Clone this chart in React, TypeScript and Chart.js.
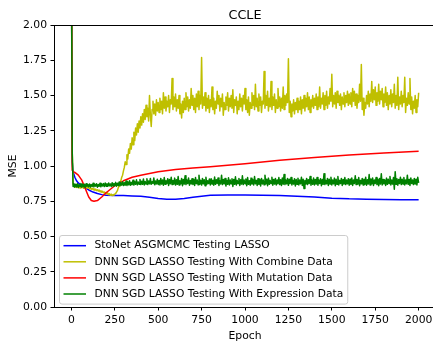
import { useEffect, useRef } from 'react';
import { Chart, registerables } from 'chart.js';

Chart.register(...registerables);

const titleText = 'CCLE';
const xTitle = 'Epoch';
const yTitle = 'MSE';
const seriesNames = [
  'StoNet ASGMCMC Testing LASSO',
  'DNN SGD LASSO Testing With Combine Data',
  'DNN SGD LASSO Testing With Mutation Data',
  'DNN SGD LASSO Testing With Expression Data',
];
const seriesColors = ['#0000ff', '#bfbf00', '#ff0000', '#008000'];
const xTicks = [0, 250, 500, 750, 1000, 1250, 1500, 1750, 2000];
const yTicks = [0, 0.25, 0.5, 0.75, 1.0, 1.25, 1.5, 1.75, 2.0];

const blueEpochs = [0, 5, 10, 20, 30, 40, 60, 80, 100, 125, 150, 175, 200, 250, 300, 350, 400, 450, 500, 550, 600, 650, 700, 750, 800, 900, 1000, 1100, 1200, 1300, 1400, 1500, 1600, 1700, 1800, 1900, 2000];
const blueMSE = [2.6, 1.03, 0.96, 0.92, 0.895, 0.88, 0.86, 0.845, 0.83, 0.815, 0.805, 0.797, 0.793, 0.79, 0.79, 0.788, 0.785, 0.778, 0.77, 0.765, 0.765, 0.77, 0.778, 0.786, 0.793, 0.795, 0.795, 0.793, 0.79, 0.785, 0.78, 0.772, 0.767, 0.765, 0.762, 0.76, 0.76];

const redEpochs = [0, 5, 10, 20, 40, 60, 80, 100, 115, 130, 150, 175, 200, 250, 300, 350, 400, 500, 600, 700, 800, 900, 1000, 1200, 1400, 1600, 1800, 2000];
const redMSE = [2.6, 0.97, 0.96, 0.955, 0.935, 0.9, 0.84, 0.78, 0.755, 0.75, 0.755, 0.78, 0.81, 0.86, 0.895, 0.92, 0.935, 0.96, 0.975, 0.985, 0.995, 1.005, 1.016, 1.04, 1.06, 1.078, 1.092, 1.104];

// yellow and green were read every 5 epochs, epoch 0 to 2000 (401 readings each)
const NOISY_STEP = 5;
const noisyEpochs = Array.from({ length: 401 }, (_, i) => i * NOISY_STEP);

const yellowMSE = [
  2.6,
  1.1, 0.87, 0.86, 0.85, 0.857, 0.848, 0.855, 0.846, 0.852, 0.844, 0.856, 0.848, 0.853, 0.842, 0.85, 0.845, 0.852, 0.843, 0.849, 0.846,
  0.838, 0.846, 0.835, 0.842, 0.832, 0.84, 0.828, 0.836, 0.826, 0.832, 0.822, 0.83, 0.818, 0.825, 0.814, 0.82, 0.81, 0.816, 0.805, 0.812,
  0.80, 0.808, 0.796, 0.803, 0.792, 0.8, 0.79, 0.797, 0.793, 0.80, 0.805, 0.815, 0.825, 0.845, 0.86, 0.88, 0.895, 0.92, 0.935, 0.965,
  0.99, 1.03, 1.01, 1.08, 1.05, 1.12, 1.09, 1.16, 1.12, 1.20, 1.15, 1.24, 1.18, 1.27, 1.22, 1.30, 1.24, 1.32, 1.27, 1.35,
  1.29, 1.37, 1.31, 1.40, 1.33, 1.43, 1.35, 1.41, 1.32, 1.50, 1.36, 1.28, 1.40, 1.46, 1.37, 1.44, 1.36, 1.47, 1.39, 1.45,
  1.38, 1.48, 1.40, 1.46, 1.37, 1.52, 1.41, 1.49, 1.39, 1.46, 1.42, 1.50, 1.38, 1.47, 1.44, 1.62, 1.40, 1.49, 1.42, 1.51,
  1.39, 1.47, 1.41, 1.50, 1.37, 1.44, 1.34, 1.46, 1.38, 1.48, 1.40, 1.52, 1.42, 1.49, 1.39, 1.47, 1.41, 1.55, 1.43, 1.50,
  1.40, 1.48, 1.38, 1.51, 1.42, 1.53, 1.40, 1.50, 1.44, 1.77, 1.41, 1.49, 1.43, 1.52, 1.39, 1.48, 1.41, 1.50, 1.38, 1.47,
  1.42, 1.56, 1.40, 1.48, 1.37, 1.46, 1.41, 1.53, 1.44, 1.50, 1.39, 1.48, 1.42, 1.51, 1.36, 1.45, 1.40, 1.49, 1.43, 1.52,
  1.39, 1.48, 1.42, 1.50, 1.41, 1.54, 1.38, 1.47, 1.43, 1.49, 1.37, 1.46, 1.40, 1.51, 1.42, 1.48, 1.39, 1.50, 1.44, 1.55,
  1.40, 1.47, 1.38, 1.49, 1.36, 1.45, 1.41, 1.52, 1.43, 1.50, 1.40, 1.58, 1.42, 1.48, 1.39, 1.51, 1.43, 1.49, 1.38, 1.46,
  1.44, 1.67, 1.41, 1.50, 1.43, 1.53, 1.39, 1.48, 1.42, 1.60, 1.40, 1.49, 1.43, 1.51, 1.38, 1.47, 1.41, 1.55, 1.42, 1.49,
  1.39, 1.48, 1.41, 1.56, 1.40, 1.50, 1.43, 1.51, 1.45, 1.76, 1.38, 1.46, 1.35, 1.44, 1.39, 1.47, 1.37, 1.45, 1.40, 1.48,
  1.38, 1.46, 1.40, 1.49, 1.37, 1.47, 1.41, 1.50, 1.39, 1.48, 1.42, 1.52, 1.40, 1.49, 1.38, 1.47, 1.42, 1.50, 1.41, 1.48,
  1.43, 1.51, 1.40, 1.49, 1.42, 1.56, 1.41, 1.48, 1.44, 1.52, 1.40, 1.50, 1.43, 1.53, 1.41, 1.49, 1.44, 1.55, 1.46, 1.65,
  1.42, 1.50, 1.44, 1.52, 1.41, 1.53, 1.45, 1.50, 1.43, 1.51, 1.40, 1.49, 1.44, 1.52, 1.42, 1.50, 1.45, 1.53, 1.43, 1.51,
  1.44, 1.52, 1.42, 1.55, 1.46, 1.53, 1.43, 1.51, 1.41, 1.50, 1.45, 1.58, 1.46, 1.72, 1.40, 1.48, 1.36, 1.45, 1.41, 1.50,
  1.44, 1.53, 1.42, 1.51, 1.46, 1.60, 1.45, 1.54, 1.47, 1.56, 1.43, 1.52, 1.46, 1.58, 1.44, 1.53, 1.47, 1.55, 1.42, 1.51,
  1.45, 1.56, 1.43, 1.52, 1.40, 1.50, 1.44, 1.54, 1.42, 1.51, 1.45, 1.58, 1.41, 1.50, 1.43, 1.63, 1.40, 1.49, 1.44, 1.53,
  1.42, 1.50, 1.45, 1.63, 1.38, 1.48, 1.43, 1.52, 1.44, 1.62, 1.40, 1.49, 1.37, 1.46, 1.41, 1.50, 1.38, 1.47, 1.42, 1.52,
];

const greenMSE = [
  2.6,
  1.1, 0.855, 0.875, 0.85, 0.87, 0.852, 0.874, 0.848, 0.868, 0.855, 0.876, 0.85, 0.872, 0.853, 0.87, 0.848, 0.874, 0.856, 0.869, 0.852,
  0.873, 0.851, 0.868, 0.855, 0.877, 0.852, 0.871, 0.857, 0.874, 0.85, 0.869, 0.856, 0.878, 0.853, 0.872, 0.858, 0.875, 0.854, 0.88, 0.857,
  0.874, 0.856, 0.879, 0.86, 0.873, 0.855, 0.882, 0.858, 0.876, 0.861, 0.884, 0.857, 0.878, 0.862, 0.886, 0.86, 0.879, 0.864, 0.888, 0.861,
  0.882, 0.864, 0.893, 0.862, 0.886, 0.867, 0.896, 0.863, 0.884, 0.868, 0.899, 0.865, 0.889, 0.87, 0.902, 0.866, 0.887, 0.871, 0.905, 0.868,
  0.892, 0.87, 0.908, 0.866, 0.89, 0.872, 0.91, 0.868, 0.894, 0.874, 0.912, 0.87, 0.889, 0.876, 0.915, 0.867, 0.893, 0.873, 0.906, 0.869,
  0.897, 0.866, 0.912, 0.872, 0.9, 0.864, 0.918, 0.87, 0.895, 0.876, 0.91, 0.862, 0.904, 0.874, 0.92, 0.868, 0.898, 0.872, 0.914, 0.865,
  0.902, 0.87, 0.925, 0.866, 0.896, 0.874, 0.912, 0.86, 0.905, 0.872, 0.93, 0.868, 0.9, 0.876, 0.915, 0.864, 0.897, 0.873, 0.91, 0.869,
  0.904, 0.862, 0.918, 0.875, 0.9, 0.867, 0.935, 0.871, 0.898, 0.865, 0.912, 0.874, 0.903, 0.86, 0.92, 0.87, 0.896, 0.876, 0.908, 0.866,
  0.91, 0.872, 0.899, 0.864, 0.922, 0.87, 0.903, 0.876, 0.915, 0.862, 0.896, 0.873, 0.935, 0.868, 0.905, 0.874, 0.912, 0.858, 0.898, 0.87,
  0.916, 0.866, 0.9, 0.874, 0.91, 0.855, 0.905, 0.87, 0.924, 0.865, 0.898, 0.876, 0.912, 0.862, 0.903, 0.872, 0.93, 0.868, 0.9, 0.875,
  0.908, 0.86, 0.918, 0.87, 0.896, 0.864, 0.914, 0.872, 0.902, 0.866, 0.925, 0.874, 0.898, 0.862, 0.91, 0.87, 0.904, 0.858, 0.912, 0.873,
  0.9, 0.867, 0.935, 0.874, 0.906, 0.86, 0.914, 0.87, 0.898, 0.876, 0.92, 0.864, 0.905, 0.872, 0.912, 0.866, 0.9, 0.874, 0.918, 0.868,
  0.903, 0.862, 0.915, 0.871, 0.94, 0.868, 0.9, 0.874, 0.912, 0.863, 0.906, 0.876, 0.918, 0.866, 0.898, 0.872, 0.91, 0.858, 0.904, 0.87,
  0.914, 0.866, 0.9, 0.874, 0.92, 0.862, 0.906, 0.84, 0.898, 0.872, 0.912, 0.868, 0.903, 0.876, 0.925, 0.864, 0.9, 0.87, 0.915, 0.866,
  0.905, 0.872, 0.918, 0.864, 0.9, 0.876, 0.91, 0.86, 0.904, 0.87, 0.945, 0.868, 0.898, 0.874, 0.912, 0.862, 0.906, 0.872, 0.92, 0.866,
  0.9, 0.874, 0.914, 0.86, 0.906, 0.87, 0.925, 0.866, 0.898, 0.876, 0.912, 0.862, 0.904, 0.872, 0.918, 0.868, 0.9, 0.874, 0.91, 0.864,
  0.906, 0.87, 0.915, 0.862, 0.9, 0.876, 0.93, 0.868, 0.904, 0.872, 0.918, 0.86, 0.898, 0.874, 0.912, 0.866, 0.906, 0.87, 0.92, 0.864,
  0.902, 0.872, 0.94, 0.866, 0.908, 0.874, 0.915, 0.862, 0.9, 0.876, 0.918, 0.868, 0.906, 0.86, 0.912, 0.872, 0.945, 0.866, 0.904, 0.874,
  0.9, 0.862, 0.914, 0.87, 0.906, 0.876, 0.925, 0.866, 0.9, 0.872, 0.918, 0.835, 0.96, 0.87, 0.91, 0.864, 0.904, 0.876, 0.92, 0.868,
  0.906, 0.872, 0.918, 0.866, 0.9, 0.874, 0.935, 0.87, 0.904, 0.862, 0.915, 0.876, 0.9, 0.868, 0.912, 0.872, 0.906, 0.866, 0.92, 0.88,
];

const FONT = '"DejaVu Sans", sans-serif';
const TICK_SIZE = 10.8;
const LEGEND_SIZE = 10.7;
const TITLE_SIZE = 12.8;

const toPoints = (xs: number[], ys: number[]) =>
  ys.map((y, i) => ({ x: xs[i], y })).filter((p) => p.x !== undefined);

const overlayPlugin = {
  id: 'overlay',
  afterDatasetsDraw(chart: any) {
    const { ctx, chartArea: a } = chart;
    ctx.save();
    // top and right spines
    ctx.strokeStyle = '#000';
    ctx.lineWidth = 1;
    ctx.beginPath();
    const top = Math.round(a.top) + 0.5;
    const right = Math.round(a.right) - 0.5;
    ctx.moveTo(a.left, top);
    ctx.lineTo(a.right, top);
    ctx.moveTo(right, a.top);
    ctx.lineTo(right, a.bottom);
    ctx.stroke();

    // title
    ctx.fillStyle = '#000';
    ctx.font = `${TITLE_SIZE}px ${FONT}`;
    ctx.textAlign = 'center';
    ctx.textBaseline = 'alphabetic';
    ctx.fillText(titleText, (a.left + a.right) / 2, 19);

    // legend
    ctx.font = `${LEGEND_SIZE}px ${FONT}`;
    let maxW = 0;
    seriesNames.forEach((n) => {
      maxW = Math.max(maxW, ctx.measureText(n).width);
    });
    const boxL = a.left + 5.5;
    const boxT = 235.5;
    const rowH = 16.1;
    const boxB = boxT + rowH * seriesNames.length + 4.2;
    const textX = boxL + 35;
    const boxR = textX + maxW + 4.5;
    const r = 2.5;
    ctx.beginPath();
    ctx.moveTo(boxL + r, boxT);
    ctx.lineTo(boxR - r, boxT);
    ctx.arcTo(boxR, boxT, boxR, boxT + r, r);
    ctx.lineTo(boxR, boxB - r);
    ctx.arcTo(boxR, boxB, boxR - r, boxB, r);
    ctx.lineTo(boxL + r, boxB);
    ctx.arcTo(boxL, boxB, boxL, boxB - r, r);
    ctx.lineTo(boxL, boxT + r);
    ctx.arcTo(boxL, boxT, boxL + r, boxT, r);
    ctx.closePath();
    ctx.fillStyle = 'rgba(255,255,255,0.8)';
    ctx.fill();
    ctx.strokeStyle = '#cccccc';
    ctx.lineWidth = 1;
    ctx.stroke();

    seriesNames.forEach((n, i) => {
      const cy = boxT + 10.2 + i * rowH;
      ctx.beginPath();
      ctx.strokeStyle = seriesColors[i];
      ctx.lineWidth = 1.5;
      ctx.moveTo(boxL + 4, cy);
      ctx.lineTo(boxL + 26.5, cy);
      ctx.stroke();
      ctx.fillStyle = '#000';
      ctx.textAlign = 'left';
      ctx.textBaseline = 'middle';
      ctx.fillText(n, textX, cy);
    });
    ctx.restore();
  },
};

export default function App() {
  const canvasRef = useRef<HTMLCanvasElement | null>(null);

  useEffect(() => {
    const canvas = canvasRef.current;
    if (!canvas) return;
    const lineDs = (label: string, color: string, data: any[]) => ({
      label,
      data,
      borderColor: color,
      backgroundColor: color,
      borderWidth: 1.5,
      pointRadius: 0,
      tension: 0,
      fill: false,
      clip: 0,
      borderJoinStyle: 'round' as const,
    });
    // listed in reverse so that the first series is drawn first (underneath)
    const datasets = [
      lineDs(seriesNames[3], seriesColors[3], toPoints(noisyEpochs, greenMSE)),
      lineDs(seriesNames[2], seriesColors[2], toPoints(redEpochs, redMSE)),
      lineDs(seriesNames[1], seriesColors[1], toPoints(noisyEpochs, yellowMSE)),
      lineDs(seriesNames[0], seriesColors[0], toPoints(blueEpochs, blueMSE)),
    ];
    const tickFont = { family: FONT, size: TICK_SIZE };
    const chart = new Chart(canvas, {
      type: 'line',
      data: { datasets },
      plugins: [overlayPlugin],
      options: {
        animation: false,
        responsive: false,
        devicePixelRatio: 1,
        layout: { padding: { top: 25, left: 0, right: 9, bottom: 0 } },
        plugins: {
          legend: { display: false },
          title: { display: false },
          tooltip: { enabled: false },
        },
        scales: {
          x: {
            type: 'linear',
            min: -100,
            max: 2100,
            afterBuildTicks: (s: any) => {
              s.ticks = xTicks.map((v) => ({ value: v }));
            },
            afterFit: (s: any) => {
              s.height = 39;
            },
            ticks: {
              font: tickFont,
              color: '#000',
              padding: 3.5,
              maxRotation: 0,
              autoSkip: false,
              callback: (v: any) => String(v),
            },
            grid: {
              display: true,
              drawOnChartArea: false,
              drawTicks: true,
              tickLength: 3.5,
              tickColor: '#000',
              tickWidth: 1,
            },
            border: { display: true, color: '#000', width: 1 },
            title: {
              display: true,
              text: xTitle,
              font: tickFont,
              color: '#000',
              padding: { top: 0, bottom: 3.5 },
            },
          },
          y: {
            type: 'linear',
            min: 0,
            max: 2,
            afterBuildTicks: (s: any) => {
              s.ticks = yTicks.map((v) => ({ value: v }));
            },
            afterFit: (s: any) => {
              s.width = 54;
            },
            ticks: {
              font: tickFont,
              color: '#000',
              padding: 3.5,
              autoSkip: false,
              callback: (v: any) => Number(v).toFixed(2),
            },
            grid: {
              display: true,
              drawOnChartArea: false,
              drawTicks: true,
              tickLength: 3.5,
              tickColor: '#000',
              tickWidth: 1,
            },
            border: { display: true, color: '#000', width: 1 },
            title: {
              display: true,
              text: yTitle,
              font: tickFont,
              color: '#000',
              padding: { top: 7, bottom: 0 },
            },
          },
        },
      },
    } as any);
    return () => chart.destroy();
  }, []);

  return (
    <div
      style={{
        position: 'fixed',
        left: 0,
        top: 0,
        width: 433,
        height: 341,
        overflow: 'hidden',
        background: '#ffffff',
      }}
    >
      <canvas
        ref={canvasRef}
        width={445}
        height={346}
        style={{ display: 'block', width: 445, height: 346 }}
      />
    </div>
  );
}
